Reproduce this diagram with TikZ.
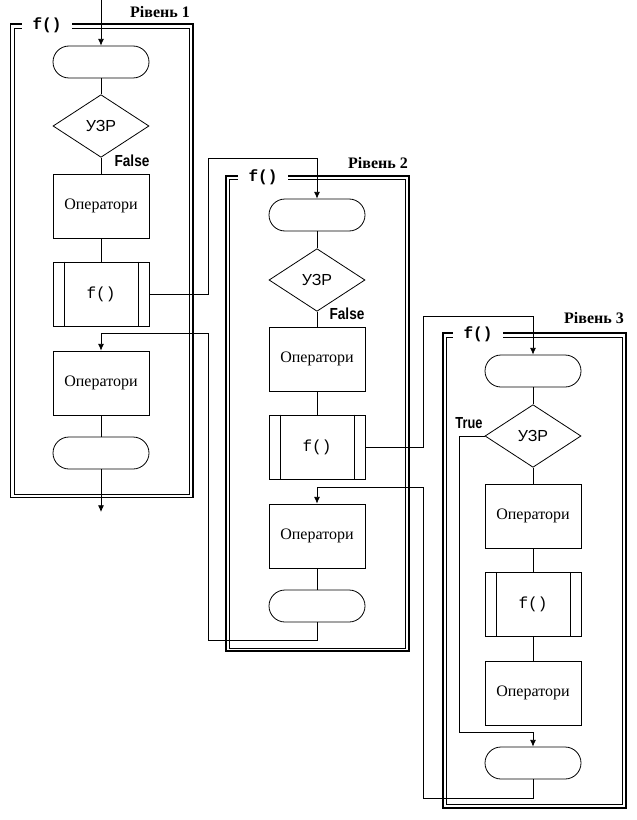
\documentclass[tikz,border=0pt]{standalone}
\usepackage{fontspec}
\setmainfont{Liberation Serif}
\setsansfont{Liberation Sans}
\setmonofont{Liberation Mono}
\usepackage{graphicx}
\usetikzlibrary{shapes.geometric,shapes.misc,arrows.meta}
\tikzset{
 every node/.style={font=\fontsize{12}{14}\selectfont},
 blk/.style={draw, line width=0.6pt, minimum width=72pt, inner sep=0pt},
 term/.style={blk, rounded rectangle, minimum height=24pt},
 oper/.style={blk, rectangle, minimum height=48pt},
 proc/.style={blk, rectangle, minimum height=48pt, font=\fontsize{12}{14}\selectfont\ttfamily},
 cond/.style={draw, diamond, line width=0.6pt, minimum width=72pt, minimum height=47pt, inner sep=0pt, aspect=1.5, font=\fontsize{12}{14}\selectfont\sffamily},
 conn/.style={line width=0.6pt},
 arr/.style={conn, -{Latex[length=5pt,width=4.5pt]}},
 frameout/.style={line width=1.3pt},
 framein/.style={line width=0.6pt},
 ftitle/.style={fill=white, inner xsep=8pt, inner ysep=0pt, minimum height=13pt, font=\fontsize{12}{14}\selectfont\ttfamily\bfseries},
 level/.style={font=\fontsize{12}{14}\selectfont\bfseries},
 branch/.style={font=\fontsize{12}{14}\selectfont\sffamily\bfseries},
}
\begin{document}
\begin{tikzpicture}[x=0.75pt,y=-0.75pt]
\useasboundingbox (0,0) rectangle (636,820);
% frames
\draw[frameout] (10.5,24) rectangle (193,497.5);
\draw[framein] (14,28) rectangle (189.5,494);
\draw[frameout] (226,176) rectangle (409,651);
\draw[framein] (229,179.5) rectangle (405.5,648);
\draw[frameout] (443,333) rectangle (626,808);
\draw[framein] (446.5,337) rectangle (622,804.5);
\node[ftitle] (t1) at (47,25) {f()};
\node[ftitle] (t2) at (263,177) {f()};
\node[ftitle] (t3) at (478,334.5) {f()};
\node[level] (l1) at (160,12) {Рівень 1};
\node[level] (l2) at (378,163) {Рівень 2};
\node[level] (l3) at (594,318) {Рівень 3};
% level 1
\node[term] (s1) at (101,62) {};
\node[cond] (d1) at (101,126) {УЗР};
\node[oper] (o1) at (101,206) {Оператори};
\node[proc] (f1) at (101,294) {f()};
\node[oper] (o1b) at (101,383) {Оператори};
\node[term] (e1) at (101,453) {};
% level 2
\node[term] (s2) at (317,215) {};
\node[cond] (d2) at (317,280) {УЗР};
\node[oper] (o2) at (317,359) {Оператори};
\node[proc] (f2) at (317,447) {f()};
\node[oper] (o2b) at (317,536) {Оператори};
\node[term] (e2) at (317,606) {};
% level 3
\node[term] (s3) at (533,371) {};
\node[cond] (d3) at (533,436) {УЗР};
\node[oper] (o3) at (533,516) {Оператори};
\node[proc] (f3) at (533,604.5) {f()};
\node[oper] (o3b) at (533,693) {Оператори};
\node[term] (e3) at (533,763) {};
\foreach \n in {f1,f2,f3} {
  \draw[conn] ([xshift=8.5pt]\n.north west) -- ([xshift=8.5pt]\n.south west);
  \draw[conn] ([xshift=-8.5pt]\n.north east) -- ([xshift=-8.5pt]\n.south east);
}
% branch labels
\node[branch] (b1) at (132,161) {\scalebox{0.85}[1]{False}};
\node[branch] (b2) at (347,314) {\scalebox{0.85}[1]{False}};
\node[branch] (b3) at (469,423) {\scalebox{0.8}[1]{True}};
% connectors level 1
\coordinate (in1) at (101,0);
\coordinate (out1) at (101,512);
\draw[arr] (in1) -- (s1.north);
\draw[conn] (s1) -- (d1);
\draw[conn] (d1) -- (o1);
\draw[conn] (o1) -- (f1);
\draw[conn] (o1b) -- (e1);
\draw[arr] (e1) -- (out1);
% call 1 -> 2
\draw[arr] (f1.east) -| (208,158) -| (s2.north);
% return 2 -> 1
\draw[arr] (e2.south) |- (208,640) -- (208,333) -| (o1b.north);
% connectors level 2
\draw[conn] (s2) -- (d2);
\draw[conn] (d2) -- (o2);
\draw[conn] (o2) -- (f2);
\draw[conn] (o2b) -- (e2);
% call 2 -> 3
\draw[arr] (f2.east) -| (423,316) -| (s3.north);
% return 3 -> 2
\draw[arr] (e3.south) |- (423,798) -- (423,487) -| (o2b.north);
% connectors level 3
\draw[conn] (s3) -- (d3);
\draw[conn] (d3) -- (o3);
\draw[conn] (o3) -- (f3);
\draw[conn] (f3) -- (o3b);
\draw[arr] (d3.west) -| (459,732) -| (e3.north);
\end{tikzpicture}
\end{document}
